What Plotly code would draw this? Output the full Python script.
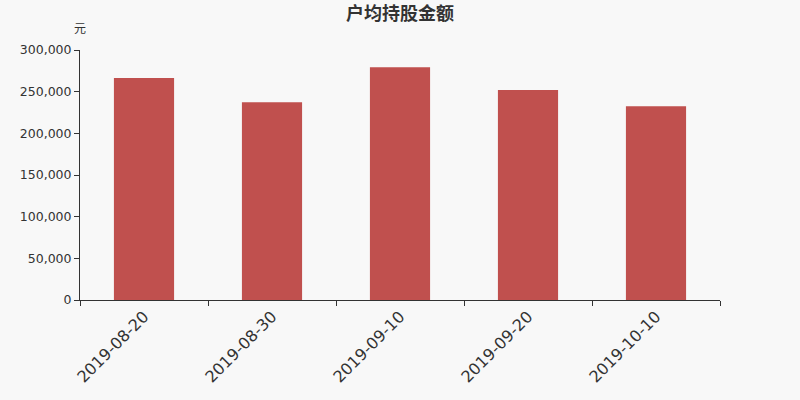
import plotly.graph_objects as go

# 日期和户均持股金额（元）
dates = ["2019-08-20", "2019-08-30", "2019-09-10", "2019-09-20", "2019-10-10"]
amounts = [266400, 237200, 279200, 252000, 232400]

bar = go.Bar(
    x=dates,
    y=amounts,
    marker=dict(color="#c0504e", line=dict(width=0)),
    width=0.47
)

layout = go.Layout(
    width=800,
    height=400,
    paper_bgcolor="#f8f8f8",
    plot_bgcolor="#f8f8f8",
    margin=dict(l=80, r=80, t=50, b=100),
    font=dict(family="DejaVu Sans, Noto Sans CJK SC", color="#333333"),
    title=dict(text="户均持股金额", x=0.5, xanchor="center", y=0.965, yanchor="middle",
               font=dict(size=18, color="#333333", family="Noto Sans CJK SC", weight=600)),
    xaxis=dict(
        type="category",
        tickson="boundaries",
        ticks="outside",
        ticklen=5,
        tickcolor="#333333",
        showline=True,
        linecolor="#333333",
        showgrid=False,
        tickangle=-45,
        tickfont=dict(size=16, color="#333333"),
        range=[-0.5, 4.5]
    ),
    yaxis=dict(
        range=[0, 300000],
        tickvals=[0, 50000, 100000, 150000, 200000, 250000, 300000],
        tickformat=",d",
        ticks="outside",
        ticklen=5,
        tickcolor="#333333",
        showline=True,
        linecolor="#333333",
        showgrid=False,
        zeroline=False,
        tickfont=dict(size=12.5, color="#333333")
    ),
    annotations=[dict(text="元", xref="paper", yref="paper", x=0, y=1.088,
                      xanchor="center", yanchor="middle", showarrow=False,
                      font=dict(size=12, color="#333333", family="Noto Sans CJK SC"))],
    showlegend=False
)

fig = go.Figure(data=[bar], layout=layout)
# 去掉页面默认边距，让图从左上角开始
fig.write_html("out.html", config={"displayModeBar": False},
               post_script="document.body.style.margin='0';document.body.style.background='#f8f8f8';")
